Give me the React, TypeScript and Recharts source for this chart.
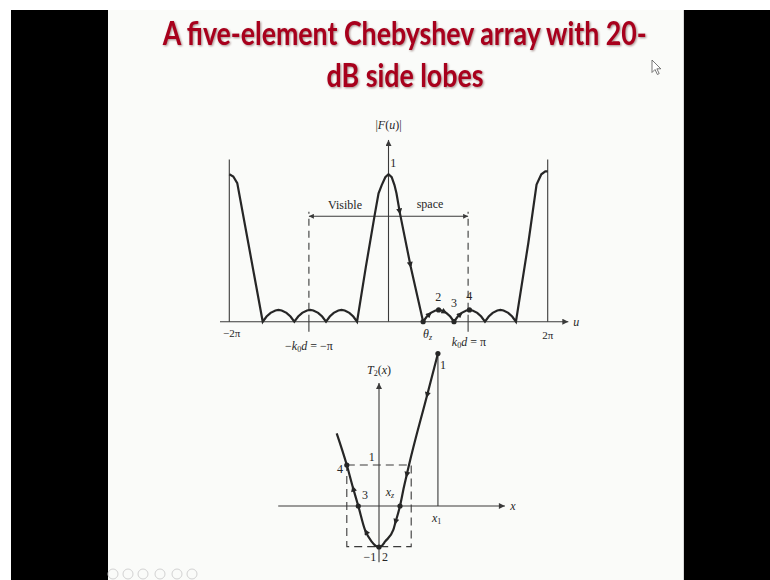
import React from 'react'
import {
  ComposedChart,
  Line,
  Scatter,
  XAxis,
  YAxis,
  ReferenceLine,
  ReferenceDot,
  ReferenceArea,
} from 'recharts'

const ink = '#262626'
const guide = '#3a3a3a'
const serif = '"Liberation Serif", "DejaVu Serif", serif'

// |F(u)| of the five-element array, u in multiples of π
const patternU = [
  -2.0, -1.95, -1.9, -1.761, -1.58,
  -1.532, -1.481, -1.421, -1.382, -1.342, -1.282, -1.231, -1.183,
  -1.135, -1.084, -1.024, -0.984, -0.944, -0.884, -0.833, -0.785,
  -0.738, -0.688, -0.63, -0.59, -0.55, -0.492, -0.442, -0.395,
  -0.285, -0.17, -0.125, -0.085, -0.04, 0, 0.04, 0.075, 0.1, 0.144, 0.279, 0.435,
  0.482, 0.532, 0.59, 0.629, 0.668, 0.726, 0.776, 0.823,
  0.87, 0.92, 0.978, 1.017, 1.056, 1.115, 1.165, 1.212,
  1.259, 1.309, 1.367, 1.406, 1.445, 1.504, 1.554, 1.601,
  1.756, 1.86, 1.92, 1.97, 2.0,
]
const patternF = [
  1.0, 0.985, 0.94, 0.532, 0,
  0.035, 0.06, 0.076, 0.08, 0.076, 0.06, 0.035, 0,
  0.035, 0.06, 0.076, 0.08, 0.076, 0.06, 0.035, 0,
  0.035, 0.06, 0.076, 0.08, 0.076, 0.06, 0.035, 0,
  0.37, 0.735, 0.871, 0.927, 0.98, 1.0, 0.98, 0.927, 0.871, 0.735, 0.373, 0,
  0.035, 0.06, 0.076, 0.08, 0.076, 0.06, 0.035, 0,
  0.035, 0.06, 0.076, 0.08, 0.076, 0.06, 0.035, 0,
  0.035, 0.06, 0.076, 0.08, 0.076, 0.06, 0.035, 0,
  0.532, 0.93, 1.0, 1.02, 1.02,
]

// marked points θz, 2, 3, 4 on the pattern
const markedU = [0.435, 0.629, 0.823, 1.017]
const markedF = [0, 0.08, 0, 0.08]

// samples of the pattern carrying an arrowhead (pointing toward larger u)
const patternArrowsAt = [0.144, 0.279, 0.532, 0.726, 0.92]

// T2(x) over the mapped interval
const chebX = [-1.314, -1.0, -0.817, -0.643, -0.435, -0.227, -0.11, 0, 0.09, 0.186, 0.444, 0.5, 0.652, 0.776, 0.85, 0.932, 1.48, 1.83]
const chebT = [1.773, 1.0, 0.471, 0, -0.585, -0.871, -0.97, -1.0, -0.97, -0.871, -0.585, -0.43, 0, 0.471, 0.72, 1.0, 2.66, 3.72]

const chebMarkedX = [-1, -0.643, 0, 0.652, 1.83]
const chebMarkedT = [1, 0, -1, 0, 3.72]

// samples of T2 carrying an arrowhead (pointing toward smaller x)
const chebArrowsAt = [1.48, 0.85, 0.5, -0.435, -0.817]

const x1 = 1.83

type Pt = { x: number; y: number }
type Note = { x: number; y: number; node: React.ReactNode; size?: number }

const zip = (xs: number[], ys: number[]): Pt[] => xs.map((x, i) => ({ x, y: ys[i] }))

const pattern = zip(patternU, patternF)
const marked = zip(markedU, markedF)
const cheb = zip(chebX, chebT)
const chebMarked = zip(chebMarkedX, chebMarkedT)

const it = (s: string) => <tspan fontStyle="italic">{s}</tspan>
// trailing subscript (nothing follows it on the line)
const sub = (s: string, italic = false) => (
  <tspan dy={3} fontSize={8} fontStyle={italic ? 'italic' : 'normal'}>{s}</tspan>
)
const kd = (sign: string, rhs: string) => (
  <>
    {sign}{it('k')}{sub('0')}<tspan dy={-3} fontStyle="italic">d</tspan> = {rhs}
  </>
)

const upperNotes: Note[] = [
  { x: 0, y: 1.334, node: <>|{it('F')}({it('u')})|</> },
  { x: 0.06, y: 1.075, node: '1' },
  { x: -0.546, y: 0.792, node: 'Visible' },
  { x: 0.521, y: 0.8, node: 'space' },
  { x: 0.626, y: 0.17, node: '2' },
  { x: 0.823, y: 0.125, node: '3' },
  { x: 1.015, y: 0.174, node: '4' },
  { x: -1.97, y: -0.08, node: '−2π', size: 11 },
  { x: -1.0, y: -0.165, node: kd('−', '−π') },
  { x: 0.49, y: -0.083, node: <>{it('θ')}{sub('z', true)}</> },
  { x: 1.01, y: -0.136, node: kd('', 'π') },
  { x: 2.0, y: -0.09, node: '2π', size: 11 },
  { x: 2.36, y: 0, node: it('u') },
]

const lowerNotes: Note[] = [
  { x: 0, y: 3.32, node: <>{it('T')}{sub('2')}<tspan dy={-3}>(</tspan>{it('x')})</> },
  { x: -0.227, y: 1.2, node: '1' },
  { x: -1.21, y: 0.9, node: '4' },
  { x: -0.435, y: 0.28, node: '3' },
  { x: 0.34, y: 0.34, node: <>{it('x')}{sub('z', true)}</> },
  { x: 1.79, y: -0.3, node: <>{it('x')}{sub('1')}</> },
  { x: -0.28, y: -1.24, node: '−1' },
  { x: 0.186, y: -1.24, node: '2' },
  { x: 1.99, y: 3.44, node: '1' },
  { x: 4.16, y: 0, node: it('x') },
]

const renderNote = (n: Note, key: string) => (
  <ReferenceDot
    key={key}
    x={n.x}
    y={n.y}
    r={0}
    fill="none"
    stroke="none"
    ifOverflow="visible"
    label={(p: any) => {
      const vb = p.viewBox ?? p
      return (
        <text
          x={vb.x + (vb.width || 0) / 2}
          y={vb.y + (vb.height || 0) / 2}
          textAnchor="middle"
          dominantBaseline="central"
          fontFamily={serif}
          fontSize={n.size ?? 12}
          fill={ink}
        >
          {n.node}
        </text>
      )
    }}
  />
)

type SegOpts = { dash?: string; start?: string; end?: string; stroke?: string; width?: number }

const seg = (key: string, a: Pt, b: Pt, o: SegOpts = {}) => (
  <ReferenceLine
    key={key}
    segment={[a, b]}
    ifOverflow="visible"
    shape={(p: any) => (
      <line
        x1={p.x1}
        y1={p.y1}
        x2={p.x2}
        y2={p.y2}
        stroke={o.stroke ?? guide}
        strokeWidth={o.width ?? 1.1}
        strokeDasharray={o.dash}
        markerStart={o.start}
        markerEnd={o.end}
      />
    )}
  />
)

const dotShape = (p: any) => <circle cx={p.cx} cy={p.cy} r={2.6} fill={ink} />

function PatternChart() {
  return (
    <ComposedChart width={400} height={250} margin={{ top: 0, right: 0, bottom: 0, left: 0 }}>
      <XAxis type="number" dataKey="x" domain={[-2.3681, 2.657]} allowDataOverflow hide />
      <YAxis type="number" domain={[-0.2599, 1.4362]} allowDataOverflow hide />

      {seg('uaxis', { x: -2.117, y: 0 }, { x: 2.259, y: 0 }, { end: 'url(#axisHead)' })}
      {seg('faxis', { x: 0, y: 0 }, { x: 0, y: 1.233 }, { end: 'url(#axisHead)' })}
      {[-2, 2].map((u) => seg(`edge${u}`, { x: u, y: 0 }, { x: u, y: 1.1 }))}
      {[-1, 1].map((u) => seg(`vis${u}`, { x: u, y: 0 }, { x: u, y: 0.746 }, { dash: '7 5' }))}
      {[-1, 1].map((u) => seg(`tick${u}`, { x: u, y: 0 }, { x: u, y: -0.068 }))}
      {seg('visible', { x: -1, y: 0.715 }, { x: 1, y: 0.715 }, { start: 'url(#spanHead)', end: 'url(#spanHead)' })}

      <Line
        data={pattern}
        dataKey="y"
        type="linear"
        stroke={ink}
        strokeWidth={2.2}
        dot={false}
        isAnimationActive={false}
      />
      <Scatter data={marked} dataKey="y" shape={dotShape} isAnimationActive={false} />

      {patternArrowsAt.map((u) => {
        const i = patternU.indexOf(u)
        return seg(`pa${u}`, pattern[i - 1], pattern[i], { stroke: 'none', end: 'url(#curveHead)' })
      })}

      {upperNotes.map((n, i) => renderNote(n, `un${i}`))}
    </ComposedChart>
  )
}

function ChebChart() {
  return (
    <ComposedChart width={280} height={240} margin={{ top: 0, right: 0, bottom: 0, left: 0 }}>
      <XAxis type="number" dataKey="x" domain={[-3.6957, 5.0]} allowDataOverflow hide />
      <YAxis type="number" domain={[-1.8049, 4.0488]} allowDataOverflow hide />

      <ReferenceArea
        x1={-1}
        x2={1}
        y1={-0.99}
        y2={1}
        fill="none"
        stroke={guide}
        strokeWidth={1.1}
        strokeDasharray="8 5"
        ifOverflow="visible"
      />
      {seg('xaxis', { x: -3.13, y: 0 }, { x: 3.91, y: 0 }, { end: 'url(#axisHead)' })}
      {seg('taxis', { x: 0, y: -1.37 }, { x: 0, y: 3.0 }, { end: 'url(#axisHead)' })}
      {seg('x1', { x: x1, y: 0 }, { x: x1, y: 3.72 })}

      <Line
        data={cheb}
        dataKey="y"
        type="monotone"
        stroke={ink}
        strokeWidth={2.2}
        dot={false}
        isAnimationActive={false}
      />
      <Scatter data={chebMarked} dataKey="y" shape={dotShape} isAnimationActive={false} />

      {chebArrowsAt.map((x) => {
        const i = chebX.indexOf(x)
        return seg(`ca${x}`, cheb[i + 1], cheb[i], { stroke: 'none', end: 'url(#curveHead)' })
      })}

      {lowerNotes.map((n, i) => renderNote(n, `ln${i}`))}
    </ComposedChart>
  )
}

const navIcons = [113, 128, 143, 160, 177, 192]

export default function App() {
  return (
    <div style={{ position: 'absolute', left: 0, top: 0, width: 770, height: 580, background: '#ffffff', overflow: 'hidden' }}>
      <svg width={0} height={0} style={{ position: 'absolute' }}>
        <defs>
          <marker id="axisHead" viewBox="0 0 10 10" refX={10} refY={5} markerWidth={9} markerHeight={6} markerUnits="userSpaceOnUse" orient="auto">
            <path d="M0,0 L10,5 L0,10 z" fill={guide} />
          </marker>
          <marker id="spanHead" viewBox="0 0 10 10" refX={10} refY={5} markerWidth={8} markerHeight={5} markerUnits="userSpaceOnUse" orient="auto-start-reverse">
            <path d="M0,0 L10,5 L0,10 z" fill={guide} />
          </marker>
          <marker id="curveHead" viewBox="0 0 10 10" refX={8} refY={5} markerWidth={8} markerHeight={6} markerUnits="userSpaceOnUse" orient="auto">
            <path d="M0,0 L10,5 L0,10 z" fill={ink} />
          </marker>
        </defs>
      </svg>

      <div style={{ position: 'absolute', left: 11, top: 10, width: 97, height: 570, background: '#000' }} />
      <div style={{ position: 'absolute', left: 684, top: 10, width: 86, height: 570, background: '#000' }} />
      <div style={{ position: 'absolute', left: 108, top: 10, width: 576, height: 570, background: '#fafbf9', borderRight: '1px solid #d8d8d8', boxSizing: 'border-box' }} />

      <svg width={770} height={580} style={{ position: 'absolute', left: 0, top: 0 }}>
        <g fontFamily="Lato, 'Open Sans', sans-serif" fontWeight={700} fill="#a8001c" textAnchor="middle" style={{ filter: 'drop-shadow(1px 1px 0.8px rgba(60,0,0,0.45))' }}>
          <text x={404.7} y={45} fontSize={33} textLength={484} lengthAdjust="spacingAndGlyphs">
            A five-element Chebyshev array with 20-
          </text>
          <text x={405} y={86.7} fontSize={33} textLength={157} lengthAdjust="spacingAndGlyphs">
            dB side lobes
          </text>
        </g>
        <path d="M652,60 L652,72.5 L655,69.5 L657.4,74.5 L659.2,73.6 L656.9,68.8 L660.8,68.8 Z" fill="#fff" stroke="#555" strokeWidth={0.8} />
        {navIcons.map((x) => (
          <circle key={x} cx={x} cy={574} r={5} fill="none" stroke="#d2d2d2" strokeWidth={1} />
        ))}
      </svg>

      <div style={{ position: 'absolute', left: 200, top: 110 }}>
        <PatternChart />
      </div>
      <div style={{ position: 'absolute', left: 260, top: 340 }}>
        <ChebChart />
      </div>
    </div>
  )
}
